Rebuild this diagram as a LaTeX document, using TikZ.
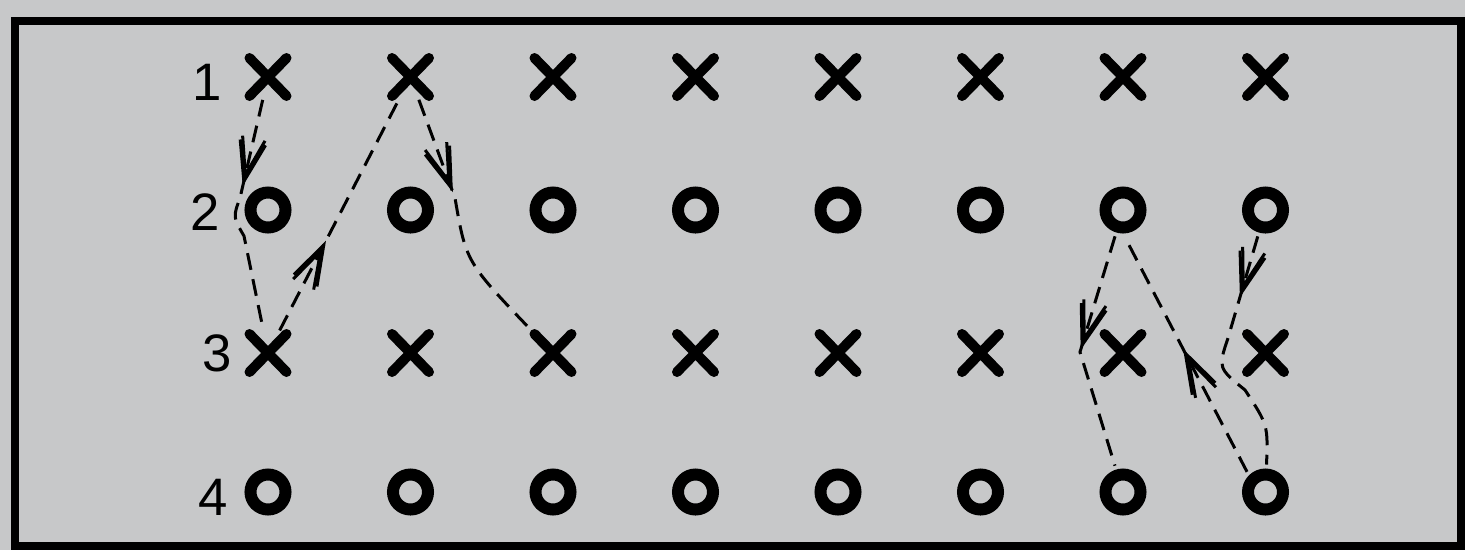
\documentclass[tikz,border=0pt]{standalone}
\usepackage{fontspec}
\setmainfont{Liberation Sans}
\usetikzlibrary{arrows.meta,shapes.misc,decorations.markings}
\definecolor{paper}{RGB}{199,200,201}
\tikzset{
  xmark/.style={cross out,draw=black,line width=2mm,line cap=round,
    minimum width=5.4mm,minimum height=5.6mm,inner sep=0pt},
  omark/.style={circle,draw=black,line width=2.4mm,minimum size=7mm,
    inner sep=0pt},
  rowlbl/.style={font=\fontsize{30}{30}\selectfont,inner sep=0pt},
  playpath/.style={dash pattern=on 3.4mm off 1.9mm,line width=0.6mm,
    shorten <=0.8mm,shorten >=0.8mm},
  tipat/.style={postaction={decorate,decoration={markings,
    mark=at position #1 with {\arrow{Straight Barb[length=8mm,width=5.2mm,line width=0.6mm]}
      \pgftransformxshift{-1.3mm}
      \arrow{Straight Barb[length=7.5mm,width=4.6mm,line width=0.6mm]}}}}},
  boxframe/.style={draw=black,line width=1.6mm},
}
\begin{document}
\begin{tikzpicture}[x=0.2mm,y=-0.2mm]
  \fill[paper] (0,0) rectangle (1465,550);
  \useasboundingbox (0,0) rectangle (1465,550);
  \draw[boxframe] (15,21) rectangle (1461,546);

  \foreach \c in {1,...,8}{
    \pgfmathsetmacro\xc{268+142.5*(\c-1)}
    \node[xmark] (p1\c) at (\xc,77) {};
    \node[omark] (p2\c) at (\xc,210) {};
    \node[xmark] (p3\c) at (\xc,353) {};
    \node[omark] (p4\c) at (\xc,492) {};
  }
  \node[rowlbl] (r1) at (207,82) {1};
  \node[rowlbl] (r2) at (205,212) {2};
  \node[rowlbl] (r3) at (217,353) {3};
  \node[rowlbl] (r4) at (213,497) {4};

  \coordinate (a1) at (240,198);
  \coordinate (a2) at (244,236);
  \coordinate (c1) at (455,198);
  \coordinate (d1) at (1080,352);
  \coordinate (f1) at (1228,338);
  \coordinate (f2) at (1245,390);

  \draw[playpath,tipat=18.5mm] (p11) -- (a1) .. controls (233,217) .. (a2) -- (p31);
  \draw[playpath,tipat=21mm] (p31) -- (p12);
  \draw[playpath,tipat=20.5mm] (p12) -- (c1) .. controls (466,262) .. (p33);
  \draw[playpath,tipat=24.5mm] (p27) -- (d1) -- (p47);
  \draw[playpath,tipat=28.5mm] (p48.north west) -- (p27.south);
  \draw[playpath,tipat=13.5mm] (p28) -- (f1) .. controls (1218,368) .. (f2)
    .. controls (1268,425) .. (p48);
\end{tikzpicture}
\end{document}
